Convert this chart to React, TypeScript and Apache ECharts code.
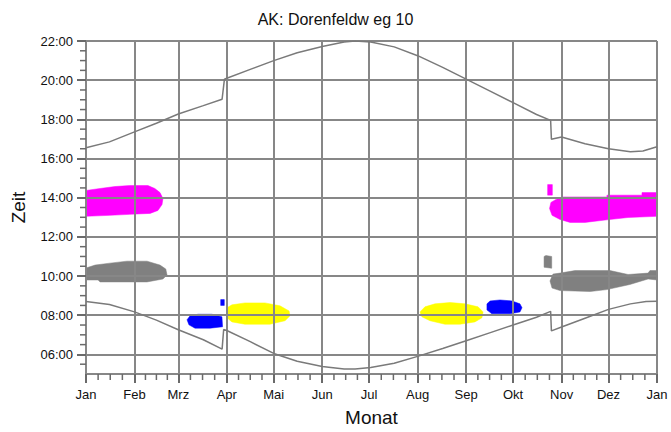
import React, { useEffect, useRef } from "react";
import * as echarts from "echarts";

// Month labels and their day-of-year positions
const monthNames = ["Jan", "Feb", "Mrz", "Apr", "Mai", "Jun", "Jul", "Aug", "Sep", "Okt", "Nov", "Dez", "Jan"];
const monthStarts = [0, 31, 59, 90, 120, 151, 181, 212, 243, 273, 304, 334, 365];

// Y axis tick values (hours)
const hourTicks = [6, 8, 10, 12, 14, 16, 18, 20, 22];
const halfHourTicks = [5.5, 6.5, 7, 7.5, 8.5, 9, 9.5, 10.5, 11, 11.5, 12.5, 13, 13.5, 14.5, 15, 15.5, 16.5, 17, 17.5, 18.5, 19, 19.5, 20.5, 21, 21.5];

// Sunset [day, hour]
const sunset: number[][] = [
  [0, 16.55], [15, 16.85], [31, 17.36], [45, 17.8], [59, 18.27], [75, 18.7], [87, 19.03],
  [88.5, 20.05], [90, 20.1], [105, 20.55], [120, 21.0], [135, 21.4], [151, 21.72], [165, 21.95],
  [172, 22.0], [182, 21.95], [197, 21.7], [212, 21.25], [228, 20.65], [243, 20.05], [258, 19.45],
  [273, 18.85], [288, 18.25], [297, 17.95], [297.5, 16.98], [304, 17.1], [319, 16.75], [334, 16.5],
  [348, 16.35], [356, 16.38], [365, 16.6],
];

// Sunrise [day, hour]
const sunrise: number[][] = [
  [0, 8.7], [15, 8.55], [31, 8.17], [45, 7.75], [59, 7.26], [75, 6.75], [87, 6.27],
  [88, 7.27], [90, 7.22], [105, 6.65], [120, 6.05], [135, 5.65], [151, 5.38], [165, 5.25],
  [172, 5.25], [182, 5.33], [197, 5.55], [212, 5.9], [228, 6.3], [243, 6.7], [258, 7.1],
  [273, 7.5], [288, 7.9], [297, 8.2], [297.5, 7.2], [304, 7.4], [319, 7.85], [334, 8.3],
  [348, 8.58], [358, 8.7], [365, 8.72],
];

// Shadow periods (outline [day, hour])
const magentaWinterEarly: number[][] = [
  [0, 14.37], [9, 14.47], [18.5, 14.57], [28, 14.62], [39.6, 14.62], [44, 14.47], [47.3, 14.26],
  [49.2, 13.96], [48.6, 13.65], [46, 13.35], [41, 13.2], [28, 13.15], [15.3, 13.1], [0, 13.05],
];
const grayWinterEarly: number[][] = [
  [0, 10.41], [5.8, 10.56], [15.3, 10.66], [26.2, 10.76], [39, 10.76], [47.3, 10.56], [51, 10.36],
  [51.8, 10.05], [49.2, 9.85], [39, 9.7], [9, 9.7], [7.7, 9.8], [0, 9.8],
];
const blueMarch: number[][] = [
  [64.6, 7.77], [66.5, 7.97], [71.6, 8.05], [80.5, 8.05], [86.9, 7.92], [87.3, 7.41],
  [79.3, 7.34], [69.7, 7.34], [65.8, 7.51],
];
const blueMarchDot: number[][] = [[86.1, 8.8], [88.4, 8.8], [88.4, 8.5], [86.1, 8.5]];
const yellowSpring: number[][] = [
  [90.1, 8.38], [93.3, 8.53], [101.6, 8.63], [114.4, 8.63], [124, 8.48], [129.8, 8.22],
  [130.4, 7.97], [127.2, 7.72], [117.6, 7.54], [101.6, 7.54], [93.3, 7.66], [90.1, 7.87],
];
const yellowAutumn: number[][] = [
  [213.5, 8.17], [216.7, 8.43], [223.1, 8.58], [232.7, 8.65], [242.3, 8.58], [250.6, 8.43],
  [253.8, 8.17], [253.1, 7.87], [248.6, 7.66], [239, 7.54], [229.5, 7.54], [219.9, 7.72], [214.7, 7.92],
];
const blueAutumn: number[][] = [
  [256.3, 8.58], [258.3, 8.73], [264.6, 8.78], [272.3, 8.73], [277.4, 8.58], [278.7, 8.38],
  [277.4, 8.17], [271, 8.07], [259.5, 8.07], [256.3, 8.27],
];
const magentaOctDot: number[][] = [[295.1, 14.67], [298.1, 14.67], [298.1, 14.13], [295.1, 14.13]];
const magentaWinterLate: number[][] = [
  [296.3, 13.45], [297.2, 13.76], [300.4, 13.91], [304.3, 14.04], [333, 14.04], [333, 14.13],
  [355.4, 14.13], [355.4, 14.26], [365, 14.26], [365, 13.05], [346.5, 12.99], [333, 12.87],
  [319, 12.74], [309.4, 12.74], [303, 12.89], [297.9, 13.1],
];
const grayOctDot: number[][] = [[292.8, 11.0], [294, 11.05], [297.7, 11.0], [297.7, 10.4], [292.8, 10.45]];
const grayWinterLate: number[][] = [
  [296.6, 9.75], [298.5, 10.1], [303, 10.15], [312.6, 10.28], [335, 10.28], [346.5, 10.08],
  [359.3, 10.15], [360.5, 10.28], [365, 10.28], [365, 9.8], [359.3, 9.85], [347.7, 9.57],
  [333, 9.31], [322.2, 9.21], [303, 9.26], [297.9, 9.39],
];

const MAGENTA = "#ff00ff";
const GRAY = "#808080";
const BLUE = "#0000ff";
const YELLOW = "#ffff00";
const FONT = "Liberation Sans";
const AXIS_COLOR = "#878787";
const TICK_COLOR = "#6a6a6a";
const Y_MIN = 5;
const Y_MAX = 22;

function blob(pts: number[][], color: string) {
  return {
    type: "custom",
    coordinateSystem: "cartesian2d",
    silent: true,
    z: -1,
    data: pts,
    encode: { x: 0, y: 1 },
    renderItem: (params: any, api: any) => {
      if (params.dataIndex !== 0) return null;
      const points = pts.map((p) => api.coord(p));
      return { type: "polygon", shape: { points }, style: { fill: color, stroke: color, lineWidth: 0.5 } };
    },
  };
}

export default function App() {
  const ref = useRef<HTMLDivElement>(null);
  useEffect(() => {
    if (!ref.current) return;
    const chart = echarts.init(ref.current, undefined, { renderer: "svg" });
    const minorX: number[] = [];
    for (let i = 0; i < monthStarts.length - 1; i++) {
      const a = monthStarts[i];
      const b = monthStarts[i + 1];
      for (let k = 1; k < 4; k++) minorX.push(a + ((b - a) * k) / 4);
    }
    const labelMap: Record<string, string> = {};
    monthStarts.forEach((d, i) => (labelMap[String(d)] = monthNames[i]));

    // minor ticks placed through the axes' own scales
    const minorXSeries = {
      type: "custom",
      coordinateSystem: "cartesian2d",
      silent: true,
      clip: false,
      z: 10,
      data: minorX.map((d) => [d, Y_MIN]),
      encode: { x: 0, y: 1 },
      renderItem: (params: any, api: any) => {
        const p = api.coord([api.value(0), Y_MIN]);
        return {
          type: "line",
          shape: { x1: p[0], y1: p[1], x2: p[0], y2: p[1] + 6 },
          style: { stroke: TICK_COLOR, lineWidth: 1.5 },
        };
      },
    };
    const minorYSeries = {
      type: "custom",
      coordinateSystem: "cartesian2d",
      silent: true,
      clip: false,
      z: 10,
      data: halfHourTicks.map((h) => [0, h]),
      encode: { x: 0, y: 1 },
      renderItem: (params: any, api: any) => {
        const p = api.coord([0, api.value(1)]);
        return {
          type: "line",
          shape: { x1: p[0] - 6, y1: p[1], x2: p[0], y2: p[1] },
          style: { stroke: TICK_COLOR, lineWidth: 1.5 },
        };
      },
    };

    chart.setOption({
      animation: false,
      title: {
        text: "AK: Dorenfeldw eg 10",
        left: "center",
        top: 6,
        textStyle: { fontFamily: FONT, fontSize: 16, fontWeight: "normal", color: "#111" },
      },
      grid: { left: 86, right: 14, top: 41, bottom: 55.5 },
      xAxis: {
        type: "value",
        min: 0,
        max: 365,
        name: "Monat",
        nameLocation: "middle",
        nameGap: 34,
        nameTextStyle: { fontFamily: FONT, fontSize: 19, color: "#111" },
        axisLine: { show: true, lineStyle: { color: AXIS_COLOR, width: 2 } },
        axisTick: { show: true, customValues: monthStarts, length: 9, lineStyle: { color: TICK_COLOR, width: 2 } },
        axisLabel: {
          customValues: monthStarts,
          formatter: (v: number) => labelMap[String(v)] ?? "",
          fontFamily: FONT,
          fontSize: 13,
          color: "#111",
          margin: 14,
        },
        splitLine: { show: true, lineStyle: { color: AXIS_COLOR, width: 2 } },
      },
      yAxis: {
        type: "value",
        min: Y_MIN,
        max: Y_MAX,
        name: "Zeit",
        nameLocation: "middle",
        nameGap: 58,
        nameTextStyle: { fontFamily: FONT, fontSize: 19, color: "#111" },
        axisLine: { show: true, lineStyle: { color: AXIS_COLOR, width: 2 } },
        axisTick: { show: true, customValues: hourTicks, length: 9, lineStyle: { color: TICK_COLOR, width: 2 } },
        axisLabel: {
          customValues: hourTicks,
          formatter: (v: number) => (v < 10 ? "0" : "") + v + ":00",
          fontFamily: FONT,
          fontSize: 13,
          color: "#111",
          margin: 13,
        },
        splitLine: { show: true, lineStyle: { color: AXIS_COLOR, width: 2 } },
      },
      series: [
        blob(magentaWinterEarly, MAGENTA),
        blob(grayWinterEarly, GRAY),
        blob(blueMarch, BLUE),
        blob(blueMarchDot, BLUE),
        blob(yellowSpring, YELLOW),
        blob(yellowAutumn, YELLOW),
        blob(blueAutumn, BLUE),
        blob(magentaOctDot, MAGENTA),
        blob(magentaWinterLate, MAGENTA),
        blob(grayOctDot, GRAY),
        blob(grayWinterLate, GRAY),
        {
          type: "line",
          name: "Sonnenuntergang",
          data: sunset,
          showSymbol: false,
          silent: true,
          lineStyle: { color: "#7a7a7a", width: 1.5 },
          z: 3,
        },
        {
          type: "line",
          name: "Sonnenaufgang",
          data: sunrise,
          showSymbol: false,
          silent: true,
          lineStyle: { color: "#7a7a7a", width: 1.5 },
          z: 3,
        },
        minorXSeries,
        minorYSeries,
      ],
    });
    return () => chart.dispose();
  }, []);
  return <div ref={ref} style={{ position: "absolute", left: 0, top: 0, width: 671, height: 432 }} />;
}
